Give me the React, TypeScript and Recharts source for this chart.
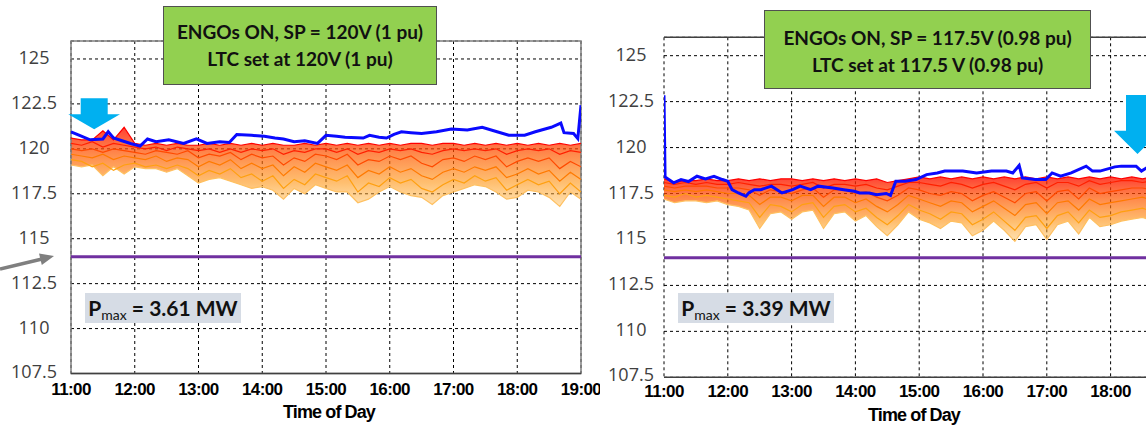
import React from "react";
import { ComposedChart, Line, Area, XAxis, YAxis, CartesianGrid, ReferenceLine, ReferenceArea } from "recharts";

// axis ticks
const hourTicks = ["11:00", "12:00", "13:00", "14:00", "15:00", "16:00", "17:00", "18:00", "19:00"];
const voltTicks = [107.5, 110, 112.5, 115, 117.5, 120, 122.5, 125];
const limitVolt = 114; // purple 0.95 pu line

// 10-minute sample times for the customer voltage band
const bandTimes = [
  "11:00", "11:10", "11:20", "11:30", "11:40", "11:50",
  "12:00", "12:10", "12:20", "12:30", "12:40", "12:50",
  "13:00", "13:10", "13:20", "13:30", "13:40", "13:50",
  "14:00", "14:10", "14:20", "14:30", "14:40", "14:50",
  "15:00", "15:10", "15:20", "15:30", "15:40", "15:50",
  "16:00", "16:10", "16:20", "16:30", "16:40", "16:50",
  "17:00", "17:10", "17:20", "17:30", "17:40", "17:50",
  "18:00", "18:10", "18:20", "18:30", "18:40", "18:50",
  "19:00",
];

// ---- left panel: SP = 120 V ----
const leftTop = [
  120.6, 120.5, 120.5, 121.0, 120.5, 121.2,
  120.3, 120.2, 120.3, 120.2, 120.3, 120.2,
  120.2, 120.3, 120.2, 120.3, 120.2, 120.3,
  120.2, 120.3, 120.2, 120.2, 120.3, 120.2,
  120.3, 120.2, 120.3, 120.2, 120.3, 120.2,
  120.3, 120.2, 120.3, 120.3, 120.2, 120.3,
  120.3, 120.2, 120.3, 120.2, 120.3, 120.2,
  120.3, 120.2, 120.3, 120.2, 120.3, 120.2,
  120.3,
];
const leftRed = [
  120.3, 120.2, 120.4, 120.1, 120.3, 120.2,
  120.1, 120.0, 120.1, 119.9, 120.1, 120.0,
  119.9, 120.0, 119.8, 120.0, 119.8, 120.0,
  119.9, 120.0, 119.7, 119.9, 119.8, 120.0,
  120.0, 119.8, 120.0, 119.7, 119.9, 119.8,
  120.0, 119.9, 120.0, 119.8, 119.7, 119.9,
  120.0, 119.9, 120.0, 119.9, 120.0, 119.7,
  119.9, 120.0, 119.9, 120.0, 119.7, 119.9,
  119.8,
];
const leftRedOrange = [
  120.0, 119.9, 120.0, 119.8, 120.0, 119.9,
  119.8, 119.7, 119.9, 119.8, 119.7, 119.9,
  119.5, 119.7, 119.6, 119.8, 119.4, 119.7,
  119.5, 119.6, 119.1, 119.5, 119.3, 119.7,
  119.6, 119.4, 119.7, 119.1, 119.4, 119.3,
  119.6, 119.4, 119.6, 119.2, 119.0, 119.4,
  119.5, 119.3, 119.6, 119.4, 119.6, 119.0,
  119.3, 119.5, 119.3, 119.5, 118.9, 119.3,
  119.0,
];
const leftOrange = [
  119.7, 119.6, 119.5, 119.7, 119.4, 119.6,
  119.5, 119.4, 119.6, 119.3, 119.5, 119.4,
  119.0, 119.3, 119.1, 119.4, 118.9, 119.2,
  118.9, 119.1, 118.5, 119.0, 118.7, 119.2,
  119.0, 118.8, 119.1, 118.4, 118.8, 118.6,
  119.0, 118.7, 118.9, 118.5, 118.3, 118.7,
  118.9, 118.7, 119.0, 118.8, 119.0, 118.4,
  118.6, 118.9, 118.6, 118.8, 118.2, 118.7,
  118.3,
];
const leftLight = [
  119.4, 119.3, 119.0, 119.2, 118.8, 119.1,
  119.2, 119.0, 119.1, 118.9, 119.1, 118.9,
  118.5, 118.8, 118.6, 118.9, 118.4, 118.6,
  118.2, 118.5, 117.8, 118.3, 118.0, 118.6,
  118.4, 118.2, 118.5, 117.6, 118.1, 117.9,
  118.4, 118.1, 118.3, 117.8, 117.6, 118.0,
  118.3, 118.1, 118.5, 118.2, 118.4, 117.7,
  118.0, 118.3, 118.0, 118.2, 117.5, 118.1,
  117.6,
];
const leftBottom = [
  119.1, 119.0, 119.1, 118.5, 119.0, 118.6,
  119.0, 118.9, 118.9, 118.7, 118.9, 118.5,
  118.1, 118.3, 118.4, 118.2, 118.0, 117.8,
  117.9, 117.7, 117.2, 117.8, 117.5, 118.0,
  117.8, 117.6, 117.6, 117.0, 117.2, 117.6,
  117.9, 117.6, 117.4, 117.3, 116.9, 117.4,
  117.6, 117.8, 118.0, 117.9, 117.6, 117.2,
  117.3, 117.7, 117.6, 117.3, 116.8, 117.6,
  117.2,
];
const leftBlueTimes = [
  "11:00", "11:08", "11:18", "11:30", "11:35", "11:40", "11:48", "11:56", "12:05", "12:12",
  "12:20", "12:32", "12:46", "12:58", "13:08", "13:20", "13:29", "13:36", "13:50", "14:02",
  "14:12", "14:20", "14:30", "14:40", "14:52", "15:00", "15:10", "15:18", "15:35", "15:41",
  "15:50", "15:57", "16:04", "16:11", "16:20", "16:30", "16:44", "16:58", "17:13", "17:27",
  "17:41", "17:52", "18:07", "18:17", "18:32", "18:41", "18:44", "18:53", "18:57", "19:00",
];
const leftBlueV = [
  120.95, 120.75, 120.5, 120.55, 120.95, 120.6, 120.45, 120.3, 120.15, 120.55,
  120.4, 120.5, 120.3, 120.55, 120.3, 120.4, 120.35, 120.8, 120.75, 120.7,
  120.6, 120.55, 120.4, 120.45, 120.3, 120.75, 120.7, 120.65, 120.6, 120.75,
  120.65, 120.6, 120.8, 120.95, 120.9, 120.85, 120.95, 121.1, 121.05, 121.2,
  120.95, 120.76, 120.76, 120.95, 121.2, 121.43, 120.9, 120.85, 120.57, 122.43,
];

// ---- right panel: SP = 117.5 V (runs past the crop, data up to 18:40) ----
const rightTop = [
  118.3, 118.1, 118.2, 118.2, 118.3, 118.2,
  118.2, 118.3, 118.2, 118.3, 118.2, 118.3,
  118.3, 118.2, 118.3, 118.2, 118.3, 118.2,
  118.3, 118.2, 118.3, 118.1, 118.2, 118.3,
  118.4, 118.3, 118.4, 118.3, 118.4, 118.3,
  118.4, 118.3, 118.4, 118.3, 118.4, 118.3,
  118.4, 118.3, 118.4, 118.3, 118.4, 118.3,
  118.4, 118.3, 118.4, 118.3, 118.4,
];
const rightRed = [
  118.1, 118.0, 118.1, 118.0, 118.1, 118.0,
  118.0, 118.1, 118.0, 117.9, 118.0, 118.0,
  117.9, 118.0, 118.1, 117.8, 118.0, 118.0,
  117.9, 118.0, 117.8, 117.7, 117.9, 118.1,
  118.1, 118.0, 117.9, 118.1, 118.0, 117.8,
  118.0, 118.1, 117.9, 117.7, 118.0, 118.1,
  117.8, 118.1, 118.1, 117.9, 118.2, 118.0,
  118.1, 118.2, 118.2, 118.1, 118.2,
];
const rightRedOrange = [
  117.9, 117.8, 117.9, 117.9, 117.9, 117.8,
  117.8, 117.8, 117.7, 117.4, 117.7, 117.6,
  117.5, 117.7, 117.8, 117.3, 117.7, 117.7,
  117.5, 117.6, 117.3, 117.1, 117.4, 117.8,
  117.7, 117.5, 117.4, 117.6, 117.5, 117.1,
  117.4, 117.6, 117.3, 117.0, 117.5, 117.6,
  117.1, 117.6, 117.7, 117.2, 117.8, 117.5,
  117.6, 117.7, 117.8, 117.8, 117.7,
];
const rightOrange = [
  117.7, 117.6, 117.7, 117.6, 117.7, 117.6,
  117.5, 117.5, 117.4, 116.9, 117.3, 117.3,
  117.1, 117.4, 117.4, 116.8, 117.3, 117.3,
  117.0, 117.2, 116.8, 116.5, 116.9, 117.4,
  117.2, 117.0, 116.8, 117.1, 117.0, 116.5,
  116.8, 117.1, 116.7, 116.3, 116.9, 117.0,
  116.4, 117.0, 117.1, 116.6, 117.2, 116.9,
  117.0, 117.1, 117.2, 117.3, 117.1,
];
const rightLight = [
  117.4, 117.3, 117.5, 117.3, 117.4, 117.3,
  117.2, 117.1, 117.0, 116.2, 116.9, 116.8,
  116.5, 116.9, 117.0, 116.2, 116.8, 116.9,
  116.5, 116.7, 116.2, 115.8, 116.3, 116.9,
  116.6, 116.4, 116.1, 116.5, 116.4, 115.8,
  116.1, 116.5, 116.0, 115.5, 116.2, 116.3,
  115.6, 116.3, 116.5, 115.9, 116.6, 116.2,
  116.3, 116.5, 116.6, 116.7, 116.5,
];
const rightBottom = [
  117.2, 117.0, 117.1, 117.1, 117.0, 117.1,
  116.9, 116.8, 116.6, 115.6, 116.4, 116.5,
  116.1, 116.5, 116.6, 115.6, 116.4, 116.5,
  116.0, 116.3, 115.7, 115.2, 115.8, 116.5,
  116.1, 115.9, 115.6, 116.0, 115.9, 115.2,
  115.5, 116.0, 115.5, 114.9, 115.7, 115.8,
  115.0, 115.8, 116.0, 115.3, 116.2, 115.7,
  115.8, 116.0, 116.1, 116.2, 116.0,
];
const rightBlueTimes = [
  "11:00", "11:01", "11:09", "11:16", "11:23", "11:31", "11:39", "11:47", "11:55", "12:00",
  "12:04", "12:10", "12:17", "12:20", "12:25", "12:31", "12:41", "12:51", "13:01", "13:08",
  "13:18", "13:25", "13:39", "13:49", "13:59", "14:04", "14:13", "14:20", "14:29", "14:33",
  "14:38", "14:47", "14:57", "15:07", "15:17", "15:24", "15:41", "15:54", "16:08", "16:22",
  "16:28", "16:34", "16:37", "16:49", "16:59", "17:05", "17:13", "17:23", "17:37", "17:43",
  "17:50", "18:04", "18:10", "18:24", "18:29", "18:34", "18:40",
];
const rightBlueV = [
  122.85, 118.4, 118.08, 118.26, 118.15, 118.44, 118.3, 118.44, 118.26, 118.17,
  117.71, 117.53, 117.35, 117.55, 117.71, 117.71, 117.9, 117.53, 117.71, 117.9,
  117.71, 117.9, 117.8, 117.71, 117.62, 117.53, 117.53, 117.44, 117.5, 117.39,
  118.17, 118.17, 118.26, 118.53, 118.62, 118.72, 118.72, 118.62, 118.72, 118.72,
  118.62, 119.03, 118.35, 118.26, 118.26, 118.62, 118.44, 118.62, 118.99, 118.72,
  118.72, 118.95, 118.99, 118.99, 118.72, 118.9, 118.9,
];

const bandColors = ["#ffc060", "#ffa010", "#ff7a00", "#ff4a00", "#ff2000", "#ff0000"];

type Pt = { t: number; v: number };

const toHours = (s: string) => {
  const [h, m] = s.split(":").map(Number);
  return h + m / 60;
};
const toPts = (times: string[], vals: number[]): Pt[] => vals.map((v, i) => ({ t: toHours(times[i]), v }));
const toBand = (times: string[], lo: number[], hi: number[]) =>
  lo.map((l, i) => ({ t: toHours(times[i]), r: [l, hi[i]] }));

const xTickValues = hourTicks.map(toHours);

interface PanelProps {
  id: string;
  x: number;
  plotTop: number;
  plotBottom: number;
  plotRight: number;
  labelX: number;
  tickGap: number;
  visibleW: number;
  lines: Pt[][];
  band: { t: number; r: number[] }[];
  blue: Pt[];
  solidLeft: boolean;
}

const CHART_W = 600;
const CHART_H = 425;
const PLOT_LEFT = 71;

function Panel(p: PanelProps) {
  const xAxisH = CHART_H - p.plotBottom;
  return (
    <div style={{ position: "absolute", left: p.x, top: 0 }}>
      <ComposedChart
        width={CHART_W}
        height={CHART_H}
        margin={{ top: p.plotTop, left: 0, right: CHART_W - p.plotRight, bottom: 0 }}
      >
        <defs>
          <linearGradient id={`band-${p.id}`} x1="0" y1="0" x2="0" y2="1">
            <stop offset="0%" stopColor="#ff1000" stopOpacity={0.8} />
            <stop offset="35%" stopColor="#ff5a00" stopOpacity={0.7} />
            <stop offset="70%" stopColor="#ff9410" stopOpacity={0.6} />
            <stop offset="100%" stopColor="#ffbb50" stopOpacity={0.45} />
          </linearGradient>
        </defs>
        <CartesianGrid stroke="#000" strokeDasharray="3 3" strokeWidth={1} />
        <XAxis
          type="number"
          dataKey="t"
          domain={[11, 19]}
          ticks={xTickValues}
          allowDataOverflow
          height={xAxisH}
          tickLine={false}
          axisLine={{ stroke: "#404040", strokeWidth: 1.5 }}
          tick={({ x, payload }: any) =>
            x + 20 > p.visibleW ? (
              <g />
            ) : (
              <text
                x={x}
                y={p.plotBottom + p.tickGap}
                textAnchor="middle"
                fontFamily="Liberation Sans"
                fontWeight="bold"
                fontSize={17}
                letterSpacing={-0.6}
                fill="#000"
              >
                {hourTicks[xTickValues.indexOf(payload.value)]}
              </text>
            )
          }
        />
        <YAxis
          type="number"
          domain={[107.5, 126]}
          ticks={voltTicks}
          allowDataOverflow
          width={PLOT_LEFT}
          tickLine={false}
          axisLine={false}
          tick={({ y, payload }: any) => (
            <text
              x={p.labelX}
              y={payload.value === voltTicks[0] ? y - 3 : y - 2}
              textAnchor="middle"
              dominantBaseline="central"
              fontFamily="Open Sans"
              fontSize={18}
              fill="#404040"
            >
              {payload.value}
            </text>
          )}
        />
        <Area
          data={p.band}
          dataKey="r"
          type="linear"
          stroke="none"
          fill={`url(#band-${p.id})`}
          fillOpacity={1}
          isAnimationActive={false}
        />
        {p.lines.map((pts, i) => (
          <Line
            key={`ln-${i}`}
            data={pts}
            dataKey="v"
            type="linear"
            stroke={bandColors[i]}
            strokeWidth={1.2}
            dot={false}
            isAnimationActive={false}
          />
        ))}
        <Line data={p.blue} dataKey="v" type="linear" stroke="#0a0aff" strokeWidth={3} dot={false} isAnimationActive={false} />
        <ReferenceLine y={limitVolt} stroke="#7030a0" strokeWidth={3} />
        {p.solidLeft ? (
          <ReferenceArea x1={11} x2={19} y1={107.5} y2={126} fill="none" stroke="#7f7f7f" strokeWidth={1.5} />
        ) : (
          <ReferenceLine y={126} stroke="#404040" strokeWidth={1.5} strokeDasharray="none" />
        )}
      </ComposedChart>
    </div>
  );
}

const leftLines = [leftBottom, leftLight, leftOrange, leftRedOrange, leftRed, leftTop].map((v) => toPts(bandTimes, v));
const rightLines = [rightBottom, rightLight, rightOrange, rightRedOrange, rightRed, rightTop].map((v) =>
  toPts(bandTimes, v)
);

const greenBox: React.CSSProperties = {
  position: "absolute",
  background: "#92d050",
  border: "1.5px solid #505050",
  boxSizing: "border-box",
  fontFamily: "Lato",
  fontWeight: 700,
  fontSize: 19,
  color: "#111",
  textAlign: "center",
  lineHeight: "27px",
  paddingTop: 11,
};

const pmaxBox: React.CSSProperties = {
  position: "absolute",
  background: "#d6dce5",
  fontFamily: "Lato",
  fontWeight: 700,
  fontSize: 21,
  color: "#111",
  textAlign: "center",
  lineHeight: "30px",
  whiteSpace: "nowrap",
};

export default function App() {
  return (
    <div
      style={{
        position: "fixed",
        left: 0,
        top: 0,
        width: 1146,
        height: 425,
        overflow: "hidden",
        background: "#fff",
      }}
    >
      <Panel
        id="a"
        x={0}
        plotTop={41}
        plotBottom={373.5}
        plotRight={581}
        labelX={34}
        tickGap={21}
        visibleW={620}
        lines={leftLines}
        band={toBand(bandTimes, leftBottom, leftTop)}
        blue={toPts(leftBlueTimes, leftBlueV)}
        solidLeft
      />
      <Panel
        id="b"
        x={593}
        plotTop={37.3}
        plotBottom={377.3}
        plotRight={581.4}
        labelX={38}
        tickGap={20}
        visibleW={1146 - 593}
        lines={rightLines}
        band={toBand(bandTimes.slice(0, rightTop.length), rightBottom, rightTop)}
        blue={toPts(rightBlueTimes, rightBlueV)}
        solidLeft={false}
      />

      <svg width={1146} height={425} style={{ position: "absolute", left: 0, top: 0, pointerEvents: "none" }}>
        <polygon
          points="80.7,98.3 107.7,98.3 107.7,114.3 120,114.3 94.2,129.3 68.3,114.3 80.7,114.3"
          fill="#00b0f0"
        />
        <polygon points="1126,95 1149,95 1149,130.7 1161,130.7 1137.5,154 1114,130.7 1126,130.7" fill="#00b0f0" />
        <line x1={0} y1={269} x2={41} y2={259.3} stroke="#7f7f7f" strokeWidth={3.5} />
        <polygon points="54,256 41.8,265.1 39,253.5" fill="#7f7f7f" />
        <text
          x={329}
          y={418}
          textAnchor="middle"
          fontFamily="Liberation Sans"
          fontWeight="bold"
          fontSize={18}
          letterSpacing={-0.9}
        >
          Time of Day
        </text>
        <text
          x={914}
          y={421}
          textAnchor="middle"
          fontFamily="Liberation Sans"
          fontWeight="bold"
          fontSize={18}
          letterSpacing={-0.9}
        >
          Time of Day
        </text>
      </svg>

      <div style={{ ...greenBox, left: 163, top: 6, width: 274, height: 79 }}>
        ENGOs ON, SP = 120V (1 pu)
        <br />
        LTC set at 120V (1 pu)
      </div>
      <div style={{ ...greenBox, left: 764, top: 10, width: 327, height: 79, paddingTop: 13 }}>
        ENGOs ON, SP = 117.5V (0.98 pu)
        <br />
        LTC set at 117.5 V (0.98 pu)
      </div>

      <div style={{ ...pmaxBox, left: 85, top: 293, width: 156, height: 30 }}>
        P<sub style={{ fontSize: 14, fontWeight: 400, verticalAlign: "-4px" }}>max</sub> = 3.61 MW
      </div>
      <div style={{ ...pmaxBox, left: 678, top: 293, width: 156, height: 30 }}>
        P<sub style={{ fontSize: 14, fontWeight: 400, verticalAlign: "-4px" }}>max</sub> = 3.39 MW
      </div>
    </div>
  );
}
